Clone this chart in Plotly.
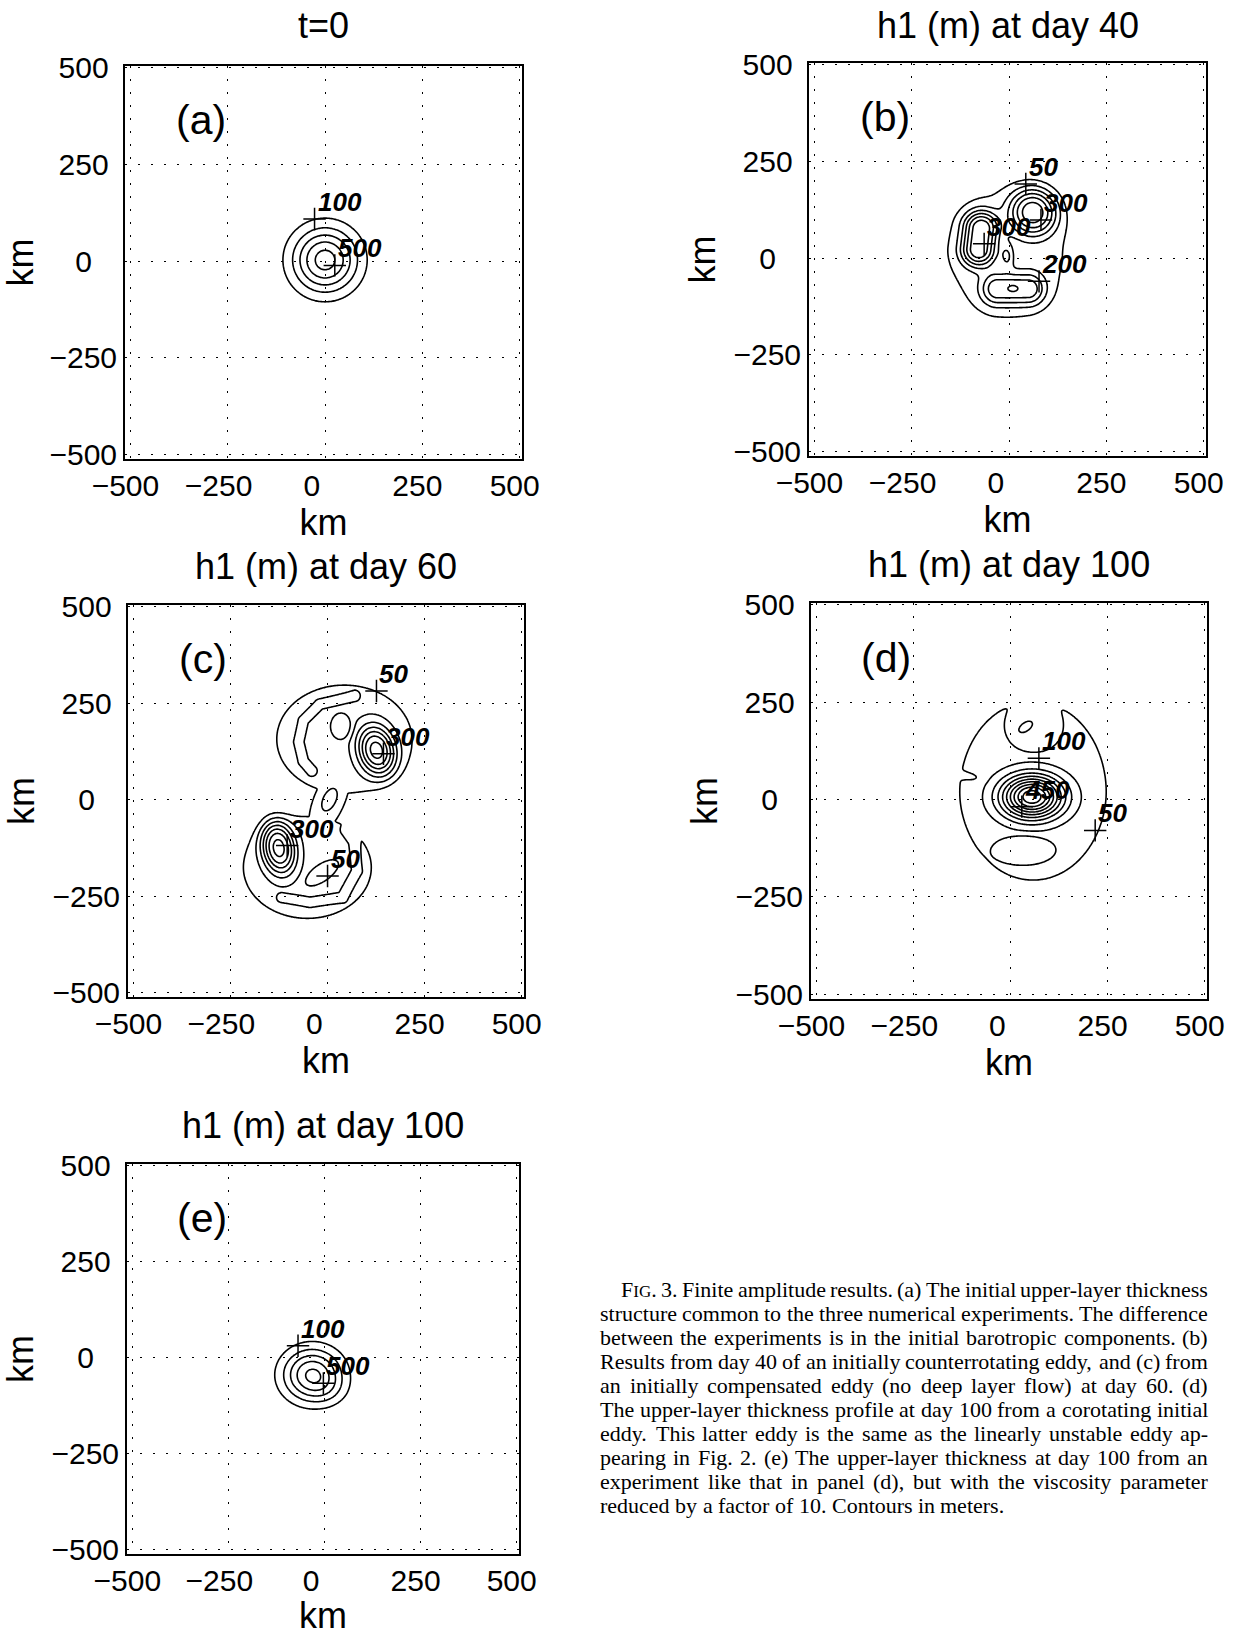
import numpy as np
import plotly.graph_objects as go

W, H = 1237, 1636

# ---------------- data ----------------
tick_vals = [-500, -250, 0, 250, 500]
x_tick_text = ["\u2212500", "\u2212250\u00a0", "0\u00a0\u00a0", "250", "500"]
y_tick_text = ["\u2212500", "\u2212250", "0\u00a0\u00a0\u00a0", "250\u00a0", "500\u00a0"]

titles = ["t=0", "h1 (m) at day 40", "h1 (m) at day 60", "h1 (m) at day 100", "h1 (m) at day 100"]
panel_tags = ["(a)", "(b)", "(c)", "(d)", "(e)"]
levels_start = [100, 50, 50, 50, 100]
levels_end = [500, 300, 350, 500, 500]
levels_step = [100, 50, 50, 50, 100]

# thickness-field features (km, m): (x, y, amp, sx, sy, angle_deg, power)
a_plateaus = []
a_blobs = [(0, 3, 548, 83, 83, 0, 1.0)]
a_ridges = []

b_plateaus = [(-5, 10, 65, 185, 196, 0, 2.5)]
b_blobs = [(62, 120, 280, 60, 60, 0, 1.2), (10, -78, 20, 12, 10, 0, 1.0), (-5, 5, 90, 16, 30, 0, 1.0)]
b_ridges = [([(-78, 23), (-72, 77)], 280, 45, 1.2),
            ([(-30, -80), (50, -80)], 180, 42, 1.1)]

c_plateaus = [(43, 157, 80, 191, 154, 0, 4.0), (-52, -176, 80, 181, 145, 0, 4.0), (5, 0, 80, 110, 45, 67, 3.0)]
c_blobs = [(126, 128, 290, 46, 64, 15, 1.2), (-126, -125, 290, 42, 68, 10, 1.2),
           (35, 190, -60, 30, 38, 0, 2.0), (-15, -190, -60, 55, 24, 35, 2.0), (5, 0, -60, 34, 18, 65, 2.0)]
c_ridges = [([(70, 268), (-20, 247), (-62, 205), (-74, 150), (-62, 100), (-40, 75)], -60, 14.3, 2.0),
            ([(-118, -253), (-45, -266), (38, -253), (75, -185), (68, -110), (48, -80)], -60, 14.3, 2.0)]

d_plateaus = [(58, 23, 70, 209, 256, 0, 5.0), (65, 140, 70, 115, 145, 0, 3.0)]
d_blobs = [(55, 7, 470, 77, 54, 0, 1.0), (60, 185, -60, 73, 65, 0, 3.0), (39, 187, 90, 22, 12, 35, 1.0),
           (35, -128, -80, 75, 36, 0, 2.0), (-108, 60, -40, 28, 9, -10, 1.0)]
d_ridges = []

e_plateaus = []
e_blobs = [(-32, -45, 520, 76, 68, 0, 1.0), (10, -85, 60, 50, 40, 0, 1.0)]
e_ridges = []

# contour labels ('+' position, text)
a_lab_x = [-27, 25]; a_lab_y = [109, -11]; a_lab_txt = ["100", "500"]
b_lab_x = [43, 82, -64, 77]; b_lab_y = [192, 99, 37, -60]; b_lab_txt = ["50", "300", "300", "200"]
c_lab_x = [126, 144, -104, 0]; c_lab_y = [282, 119, -119, -198]; c_lab_txt = ["50", "300", "300", "50"]
d_lab_x = [73, 29, 218]; d_lab_y = [106, -18, -79]; d_lab_txt = ["100", "450", "50"]
e_lab_x = [-69, -3]; e_lab_y = [31, -67]; e_lab_txt = ["100", "500"]

caption_lines = [
    "FIG. 3. Finite amplitude results. (a) The initial upper-layer thickness",
    "structure common to the three numerical experiments. The difference",
    "between the experiments is in the initial barotropic components. (b)",
    "Results from day 40 of an initially counterrotating eddy, and (c) from",
    "an initially compensated eddy (no deep layer flow) at day 60. (d)",
    "The upper-layer thickness profile at day 100 from a corotating initial",
    "eddy. This latter eddy is the same as the linearly unstable eddy ap-",
    "pearing in Fig. 2. (e) The upper-layer thickness at day 100 from an",
    "experiment like that in panel (d), but with the viscosity parameter",
    "reduced by a factor of 10. Contours in meters.",
]

# ---------------- layout constants ----------------
dom_left = [125, 809, 128, 811, 127]
dom_right = [522, 1206, 524, 1207, 519]
dom_top = [66, 63, 605, 603, 1164]
dom_bottom = [459, 456, 997, 999, 1554]
title_yc = [26, 25, 566, 564, 1125]
SANS = "Liberation Sans, Arial, Helvetica, sans-serif"
SERIF = "Liberation Serif, Times New Roman, serif"

# ---------------- field construction ----------------
grid_km = np.linspace(-520, 520, 321)
GX, GY = np.meshgrid(grid_km, grid_km)


def blob_field(cx, cy, amp, sx, sy, ang, pw):
    t = np.deg2rad(ang)
    dx, dy = GX - cx, GY - cy
    u = (dx * np.cos(t) + dy * np.sin(t)) / sx
    v = (-dx * np.sin(t) + dy * np.cos(t)) / sy
    return amp * np.exp(-np.power(u * u + v * v, pw))


def ridge_field(path, amp, w, pw):
    d2 = np.full(GX.shape, np.inf)
    for (ax, ay), (bx, by) in zip(path[:-1], path[1:]):
        ex, ey = bx - ax, by - ay
        L2 = ex * ex + ey * ey
        t = np.clip(((GX - ax) * ex + (GY - ay) * ey) / L2, 0, 1)
        d2 = np.minimum(d2, (GX - ax - t * ex) ** 2 + (GY - ay - t * ey) ** 2)
    return amp * np.exp(-np.power(d2 / (w * w), pw))


def build(plateaus, blobs, ridges):
    Z = np.zeros_like(GX)
    if plateaus:
        Z = np.max([blob_field(*p) for p in plateaus], axis=0)
    for b in blobs:
        Z = Z + blob_field(*b)
    for r in ridges:
        Z = Z + ridge_field(*r)
    return Z


features = [(a_plateaus, a_blobs, a_ridges), (b_plateaus, b_blobs, b_ridges),
            (c_plateaus, c_blobs, c_ridges), (d_plateaus, d_blobs, d_ridges),
            (e_plateaus, e_blobs, e_ridges)]
labels = [(a_lab_x, a_lab_y, a_lab_txt), (b_lab_x, b_lab_y, b_lab_txt), (c_lab_x, c_lab_y, c_lab_txt),
          (d_lab_x, d_lab_y, d_lab_txt), (e_lab_x, e_lab_y, e_lab_txt)]

fig = go.Figure()
layout_axes = {}
for i in range(5):
    n = '' if i == 0 else str(i + 1)
    xa, ya = 'x' + n, 'y' + n
    Z = build(*features[i])
    fig.add_trace(go.Contour(
        x=grid_km, y=grid_km, z=Z, xaxis=xa, yaxis=ya, autocontour=False,
        contours=dict(start=levels_start[i], end=levels_end[i], size=levels_step[i],
                      coloring='lines', showlabels=False),
        colorscale=[[0, 'black'], [1, 'black']], showscale=False,
        line=dict(width=1.6, smoothing=1), hoverinfo='skip'))
    lx, ly, lt = labels[i]
    fig.add_trace(go.Scatter(
        x=lx, y=ly, mode='markers', xaxis=xa, yaxis=ya, hoverinfo='skip', showlegend=False,
        marker=dict(symbol='cross-thin', size=16, color='black', line=dict(width=1.5, color='black'))))
    for px, py, t in zip(lx, ly, lt):
        fig.add_annotation(x=px, y=py, xref=xa, yref=ya, text=t, showarrow=False,
                           xanchor='left', yanchor='bottom', xshift=1, yshift=0,
                           font=dict(family=SANS, size=26, color='black', weight='bold', style='italic'))
    fig.add_annotation(x=-320, y=364, xref=xa, yref=ya, text=panel_tags[i], showarrow=False,
                       xanchor='center', yanchor='middle', font=dict(family=SANS, size=41, color='black'))
    fig.add_annotation(x=(dom_left[i] + dom_right[i]) / 2 / W, y=1 - title_yc[i] / H,
                       xref='paper', yref='paper', text=titles[i], showarrow=False,
                       xanchor='center', yanchor='middle', font=dict(family=SANS, size=36, color='black'))
    common = dict(showgrid=True, gridcolor='black', griddash='2px,11px', gridwidth=1.4,
                  zeroline=False, showline=True, mirror=True, linecolor='black', linewidth=2,
                  ticks='', tickvals=tick_vals, tickfont=dict(family=SANS, size=30, color='black'),
                  fixedrange=True, automargin=False)
    layout_axes['xaxis' + n] = dict(
        common, domain=[dom_left[i] / W, dom_right[i] / W], range=[-514, 506], anchor=ya,
        ticktext=x_tick_text, ticklabelstandoff=-1, ticklabelshift=-5,
        title=dict(text='km', font=dict(family=SANS, size=36, color='black'), standoff=4))
    layout_axes['yaxis' + n] = dict(
        common, domain=[1 - dom_bottom[i] / H, 1 - dom_top[i] / H], range=[-512, 505], anchor=xa,
        ticktext=y_tick_text, ticklabelstandoff=0,
        title=dict(text='km', font=dict(family=SANS, size=36, color='black'), standoff=7))

# ---------------- caption (justified) ----------------
TW = {' ': 250, '(': 333, ')': 333, ',': 250, '-': 333, '.': 250, ':': 278,
      'A': 722, 'B': 667, 'C': 667, 'D': 722, 'E': 611, 'F': 556, 'G': 722, 'H': 722, 'I': 333,
      'J': 389, 'K': 722, 'L': 611, 'M': 889, 'N': 722, 'O': 722, 'P': 556, 'Q': 722, 'R': 667,
      'S': 556, 'T': 611, 'U': 722, 'V': 722, 'W': 944, 'X': 722, 'Y': 722, 'Z': 611,
      'a': 444, 'b': 500, 'c': 444, 'd': 500, 'e': 444, 'f': 333, 'g': 500, 'h': 500, 'i': 278,
      'j': 278, 'k': 500, 'l': 278, 'm': 778, 'n': 500, 'o': 500, 'p': 500, 'q': 500, 'r': 333,
      's': 389, 't': 278, 'u': 500, 'v': 500, 'w': 722, 'x': 500, 'y': 500, 'z': 444}
cap_size = 22
cap_left, cap_right, cap_indent = 599, 1207, 620
cap_y0, cap_dy = 1289, 24.1
for li, line in enumerate(caption_lines):
    words = line.split(' ')
    texts, widths = [], []
    for wd in words:
        if wd == 'FIG.':
            texts.append("F<span style='font-size:17px'>IG</span>.")
            widths.append((TW['F'] + 0.78 * (TW['I'] + TW['G']) + TW['.']) * cap_size / 1000)
        else:
            texts.append(wd)
            widths.append(sum(TW.get(ch, 500) for ch in wd) * cap_size / 1000)
    x0 = cap_indent if li == 0 else cap_left
    if li == len(caption_lines) - 1:
        gap = TW[' '] * cap_size / 1000
    else:
        gap = (cap_right - x0 - sum(widths)) / (len(words) - 1)
    xc = x0
    for t, wdt in zip(texts, widths):
        fig.add_annotation(x=xc / W, y=1 - (cap_y0 + li * cap_dy) / H, xref='paper', yref='paper',
                           text=t, showarrow=False, xanchor='left', yanchor='middle', borderpad=0,
                           font=dict(family=SERIF, size=cap_size, color='black'))
        xc += wdt + gap

fig.update_layout(width=W, height=H, margin=dict(l=0, r=0, t=0, b=0),
                  paper_bgcolor='white', plot_bgcolor='white', showlegend=False,
                  font=dict(family=SANS, color='black'), **layout_axes)

fig.write_html("out.html")
